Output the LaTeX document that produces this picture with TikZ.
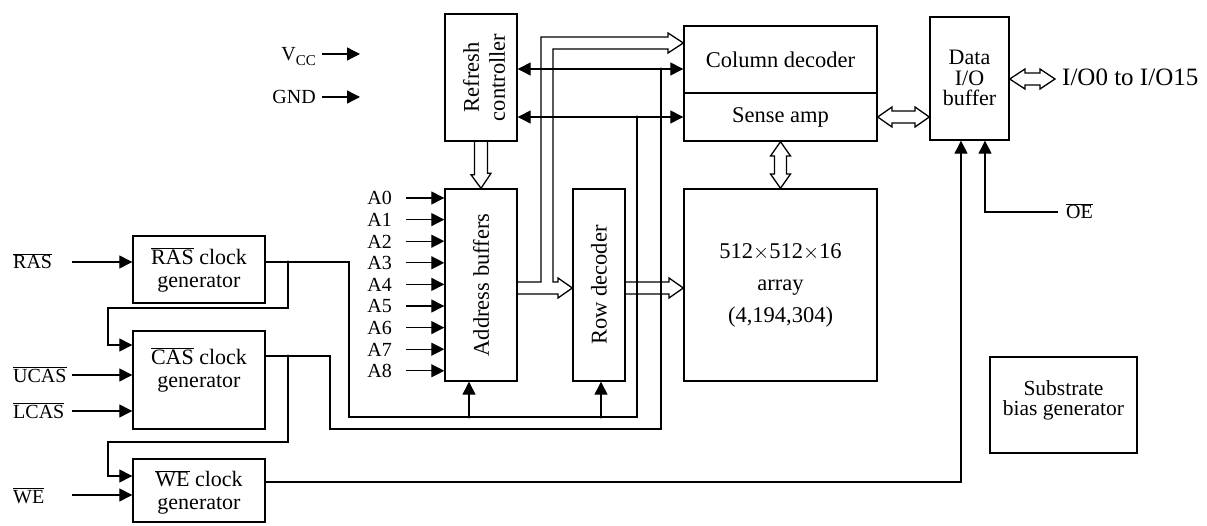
\documentclass[tikz,border=0pt]{standalone}
\usepackage{fontspec}
\setmainfont{Liberation Serif}
\usetikzlibrary{arrows.meta,calc}
\newcommand{\tightls}{\lineskiplimit=-10pt\relax}
\newcommand{\myfs}{\fontsize{22.5}{26}\selectfont\tightls}
\newcommand{\capfs}{\fontsize{20}{24}\selectfont}
\newcommand{\ovl}[1]{$\overline{\mbox{#1}}$}
\begin{document}
\begin{tikzpicture}[x=1pt,y=-1pt,
 box/.style={draw,line width=1.4pt,inner sep=0pt},
 txt/.style={inner sep=0pt,align=center,font=\myfs},
 lbl/.style={inner sep=0pt,font=\capfs},
 wire/.style={line width=1.3pt},
 arr/.style={line width=1.3pt,-{Triangle[length=13pt,width=13pt]}},
 bus/.style={line width=1.3pt,line join=miter},
 dot/.style={circle,fill,inner sep=0pt,minimum size=3.4pt}]
\useasboundingbox (0,0) rectangle (1207,526);
% boxes
\node[box,minimum width=72pt,minimum height=127pt] (refresh) at (481,77.5) {};
\node[box,minimum width=193pt,minimum height=67pt] (colD) at (780.5,59.5) {};
\node[box,minimum width=193pt,minimum height=48pt] (sense) at (780.5,117) {};
\node[box,minimum width=79pt,minimum height=123pt] (data) at (969.5,78.5) {};
\node[box,minimum width=72pt,minimum height=192pt] (addr) at (481,285) {};
\node[box,minimum width=52pt,minimum height=192pt] (row) at (599,285) {};
\node[box,minimum width=193pt,minimum height=192pt] (array) at (780.5,285) {};
\node[box,minimum width=132pt,minimum height=67pt] (ras) at (199,269.5) {};
\node[box,minimum width=132pt,minimum height=98pt] (cas) at (199,380) {};
\node[box,minimum width=132pt,minimum height=63pt] (we) at (199,490.5) {};
\node[box,minimum width=147pt,minimum height=96pt] (subst) at (1063.5,405) {};
% texts
\node[txt,rotate=90,font={\fontsize{22.5}{26}\selectfont}] (refreshT) at (484,77.5) {Refresh\\controller};
\node[txt] (colDT) at (colD.center) {Column decoder};
\node[txt] (senseT) at (sense.center) {Sense amp};
\node[txt,font={\fontsize{22}{20.5}\selectfont\tightls}] (dataT) at (969.5,78) {Data\\I/O\\buffer};
\node[txt,rotate=90] (addrT) at (addr.center) {Address buffers};
\node[txt,rotate=90] (rowT) at (row.center) {Row decoder};
\node[txt,font={\fontsize{22.5}{32}\selectfont}] (arrayT) at (array.center) {512$\times$512$\times$16\\array\\(4,194,304)};
\node[txt,font={\fontsize{22}{22.5}\selectfont\tightls}] (rasT) at (199,270) {\ovl{RAS} clock\\generator};
\node[txt,font={\fontsize{22}{22.5}\selectfont\tightls}] (casT) at (199,370) {\ovl{CAS} clock\\generator};
\node[txt,font={\fontsize{22}{22.5}\selectfont\tightls}] (weT) at (199,492) {\ovl{WE} clock\\generator};
\node[txt,font={\fontsize{21.5}{20}\selectfont\tightls}] (substT) at (1063.5,400) {Substrate\\bias generator};
% outside labels
\node[lbl,anchor=base east] (vccL) at (316,61) {V\raisebox{-5pt}{\fontsize{15}{15}\selectfont CC}};
\node[lbl,anchor=base east] (gndL) at (316,104) {GND};
\node[lbl,anchor=base west] (rasL) at (13,269) {\ovl{RAS}};
\node[lbl,anchor=base west] (ucasL) at (13,382) {\ovl{UCAS}};
\node[lbl,anchor=base west] (lcasL) at (13,418) {\ovl{LCAS}};
\node[lbl,anchor=base west] (weL) at (13,503) {\ovl{WE}};
\node[lbl,anchor=base west] (oeL) at (1066,219) {\ovl{OE}};
\node[txt,anchor=west,font={\fontsize{25}{28}\selectfont}] (ioL) at (1062,77) {I/O0 to I/O15};
% address inputs
\foreach \i in {0,...,8}{
  \pgfmathsetmacro\yy{198+21.6*\i}
  \node[lbl,anchor=base east] (aL\i) at (392,\yy+7) {A\i};
  \coordinate (a\i) at (406,\yy);
  \draw[arr] (a\i) -- (a\i -| addr.west);
}
% coordinates
\coordinate (jA) at (661,69);
\coordinate (jB) at (637,117);
\coordinate (jR) at (288,262);
\coordinate (jC) at (288,356);
\coordinate (jAd) at (469,417);
\coordinate (jRw) at (601,417);
\coordinate (vccS) at (322,54); \coordinate (vccE) at (360,54);
\coordinate (gndS) at (322,97); \coordinate (gndE) at (360,97);
\coordinate (iRAS) at (72,262);
\coordinate (iUCAS) at (72,375);
\coordinate (iLCAS) at (72,411);
\coordinate (iWE) at (72,495);
\coordinate (oWE) at (961,482);
\coordinate (oOE) at (1058,212);
\coordinate (oOEc) at (985,212);
\coordinate (ioE) at (1055,79);
% wires
\draw[arr] (vccS) -- (vccE);
\draw[arr] (gndS) -- (gndE);
\draw[arr] (jA) -- (jA -| colD.west);
\draw[arr] (jA) -- (jA -| refresh.east);
\draw[arr] (jB) -- (jB -| sense.west);
\draw[arr] (jB) -- (jB -| refresh.east);
\draw[wire] (jA) -- (661,429) -- (330,429) -- (330,356) -- (jC -| cas.east);
\draw[wire] (jB) -- (637,417) -- (349,417) -- (349,262) -- (jR -| ras.east);
\draw[arr] (jAd) -- (jAd |- addr.south);
\draw[arr] (jRw) -- (jRw |- row.south);
\draw[arr] (jR) -- (288,308) -- (108,308) -- (108,345) -- ([yshift=35pt]cas.west);
\draw[arr] (jC) -- (288,442) -- (108,442) -- (108,476) -- ([yshift=14.5pt]we.west);
\draw[arr] (iRAS) -- (iRAS -| ras.west);
\draw[arr] (iUCAS) -- (iUCAS -| cas.west);
\draw[arr] (iLCAS) -- (iLCAS -| cas.west);
\draw[arr] (iWE) -- (iWE -| we.west);
\draw[arr] (oWE -| we.east) -- (oWE) -- (oWE |- data.south);
\draw[arr] (oOE) -- (oOEc) -- (oOEc |- data.south);
\foreach \p in {jA,jB,jR,jC,jAd,jRw} \node[dot] (d\p) at (\p) {};
% buses
\draw[bus] (refresh.south) ++(-6.5,0) -- ++(0,33) -- ++(-3.5,0) -- (addr.north) -- ++(10,-15) -- ++(-3.5,0) -- ++(0,-33);
\draw[bus] ([yshift=3pt]addr.east) -- (541,282) -- (541,37) -- (668,37) -- (668,33) -- ([yshift=16.5pt]colD.west) -- (668,53) -- (668,49) -- (553,49) -- (553,282) -- (558,282) -- (558,278) -- ([yshift=-3pt]row.west) -- (558,298) -- (558,294) -- ([yshift=-9pt]addr.east);
\draw[bus] ([yshift=3pt]row.east) -- (669,282) -- (669,278) -- ([yshift=-3pt]array.west) -- (669,298) -- (669,294) -- ([yshift=-9pt]row.east);
\draw[bus] (sense.south) -- (790.5,156) -- (786.5,156) -- (786.5,174) -- (790.5,174) -- (array.north) -- (770.5,174) -- (774.5,174) -- (774.5,156) -- (770.5,156) -- cycle;
\draw[bus] (sense.east) -- (892,107) -- (892,111) -- (915,111) -- (915,107) -- (sense.east -| data.west) -- (915,127) -- (915,123) -- (892,123) -- (892,127) -- cycle;
\draw[bus] (ioE -| data.east) -- (1025,69) -- (1025,73) -- (1040,73) -- (1040,69) -- (ioE) -- (1040,89) -- (1040,85) -- (1025,85) -- (1025,89) -- cycle;
\end{tikzpicture}
\end{document}
